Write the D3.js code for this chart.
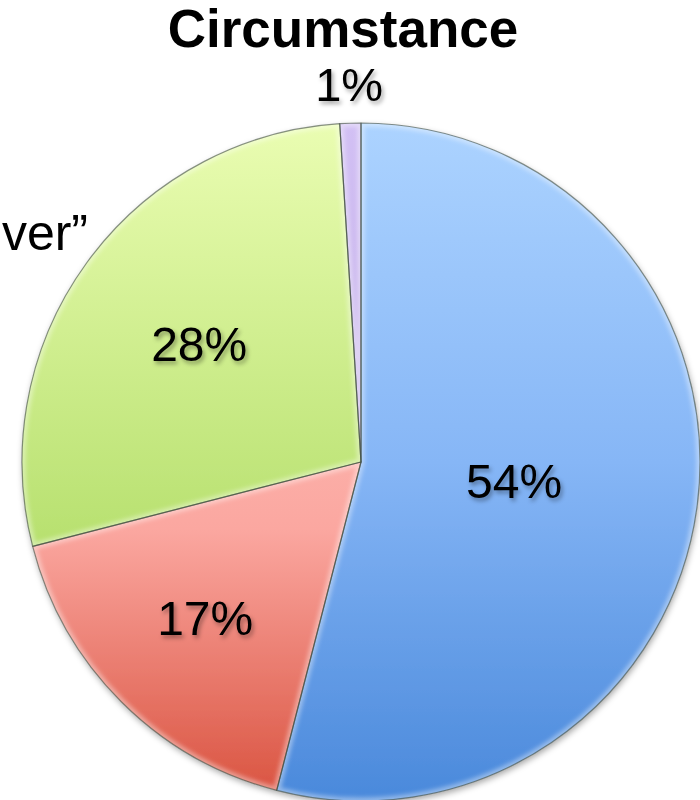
<!DOCTYPE html>
<html>
<head>
<meta charset="utf-8">
<script src="https://cdn.jsdelivr.net/npm/d3@7/dist/d3.min.js"></script>
<style>
  html, body { margin: 0; padding: 0; background: #ffffff; }
  svg { display: block; font-family: "Liberation Sans", Arial, Helvetica, sans-serif; }
</style>
</head>
<body>
<svg id="chart" width="700" height="800"></svg>
<script>
// Share of responses by category, clockwise from 12 o'clock
const categories = ["A", "B", "C", "D"];
const values = [54, 17, 28, 1];
const labels = ["54%", "17%", "28%", "1%"];
const titleText = "Circumstance";
const sideText = "ver\u201D";

// Fill gradients per slice (offset, colour), top of pie to bottom
const sliceGradients = [
  [[0, "#acd3ff"], [0.5, "#86b6f6"], [1, "#4a89db"]],
  [[0, "#ffd2cd"], [0.6, "#fba7a0"], [1, "#d9523f"]],
  [[0, "#eafdb2"], [0.65, "#b5df6c"], [1, "#98c84e"]],
  [[0, "#d2c0f4"], [1, "#b49ddc"]]
];
// Distance of each label from the centre, as a fraction of the radius
const labelRadius = [0.455, 0.65, 0.59, 1.114];
const labelSize = [48, 48, 48, 47];

const svg = d3.select("#chart");
const cx = 361, cy = 462, r = 339;

const defs = svg.append("defs");

// Soft shadow under the pie
const pieShadow = defs.append("filter").attr("id", "pieShadow")
  .attr("x", "-10%").attr("y", "-10%").attr("width", "120%").attr("height", "120%");
pieShadow.append("feDropShadow")
  .attr("dx", 1).attr("dy", 3).attr("stdDeviation", 3)
  .attr("flood-color", "#000").attr("flood-opacity", 0.35);

// Soft shadow under the labels
const textShadow = defs.append("filter").attr("id", "textShadow")
  .attr("x", "-20%").attr("y", "-30%").attr("width", "140%").attr("height", "160%");
textShadow.append("feDropShadow")
  .attr("dx", 2).attr("dy", 3).attr("stdDeviation", 2)
  .attr("flood-color", "#000").attr("flood-opacity", 0.35);

// Blur used for the inner bevel highlight
const bevelBlur = defs.append("filter").attr("id", "bevelBlur");
bevelBlur.append("feGaussianBlur").attr("stdDeviation", 2);

// Gradients are in the pie group's own (centred) coordinates
sliceGradients.forEach((stops, i) => {
  const g = defs.append("linearGradient")
    .attr("id", "grad" + i)
    .attr("gradientUnits", "userSpaceOnUse")
    .attr("x1", 0).attr("x2", 0)
    .attr("y1", -r).attr("y2", r);
  stops.forEach(s => g.append("stop").attr("offset", s[0]).attr("stop-color", s[1]));
});

const pie = d3.pie().sort(null).value(d => d)(values);
const arc = d3.arc().innerRadius(0).outerRadius(r);

const pieG = svg.append("g")
  .attr("transform", `translate(${cx},${cy})`)
  .attr("filter", "url(#pieShadow)");

pie.forEach((d, i) => {
  defs.append("clipPath").attr("id", "clip" + i)
    .append("path").attr("d", arc(d)).attr("transform", `translate(${cx},${cy})`);
});

pieG.selectAll("path")
  .data(pie)
  .join("path")
  .attr("d", arc)
  .attr("fill", (d, i) => `url(#grad${i})`);

// Bevel: light inner glow along each slice edge, then a thin dark rim
const bevelG = svg.append("g");
pie.forEach((d, i) => {
  bevelG.append("g")
    .attr("clip-path", `url(#clip${i})`)
    .append("path")
    .attr("transform", `translate(${cx},${cy})`)
    .attr("d", arc(d))
    .attr("fill", "none")
    .attr("stroke", "#ffffff")
    .attr("stroke-opacity", 0.4)
    .attr("stroke-width", 7)
    .attr("filter", "url(#bevelBlur)");
});
svg.append("g")
  .attr("transform", `translate(${cx},${cy})`)
  .selectAll("path")
  .data(pie)
  .join("path")
  .attr("d", arc)
  .attr("fill", "none")
  .attr("stroke", "#3c4a3c")
  .attr("stroke-opacity", 0.6)
  .attr("stroke-width", 1.2)
  .attr("stroke-linejoin", "round");

// Percentage labels
svg.append("g")
  .attr("filter", "url(#textShadow)")
  .selectAll("text")
  .data(pie)
  .join("text")
  .attr("transform", (d, i) => {
    const rr = r * labelRadius[i];
    const c = d3.arc().innerRadius(rr).outerRadius(rr).centroid(d);
    return `translate(${cx + c[0]},${cy + c[1]})`;
  })
  .attr("text-anchor", "middle")
  .attr("dy", "0.35em")
  .attr("font-size", (d, i) => labelSize[i])
  .attr("fill", "#000")
  .text((d, i) => labels[i]);

// Title
svg.append("text")
  .attr("x", 343)
  .attr("y", 47)
  .attr("text-anchor", "middle")
  .attr("font-size", 53)
  .attr("font-weight", "bold")
  .attr("fill", "#000")
  .text(titleText);

// Category text on the left edge
svg.append("text")
  .attr("x", 88)
  .attr("y", 250)
  .attr("text-anchor", "end")
  .attr("font-size", 50)
  .attr("fill", "#000")
  .text(sideText);
</script>
</body>
</html>
